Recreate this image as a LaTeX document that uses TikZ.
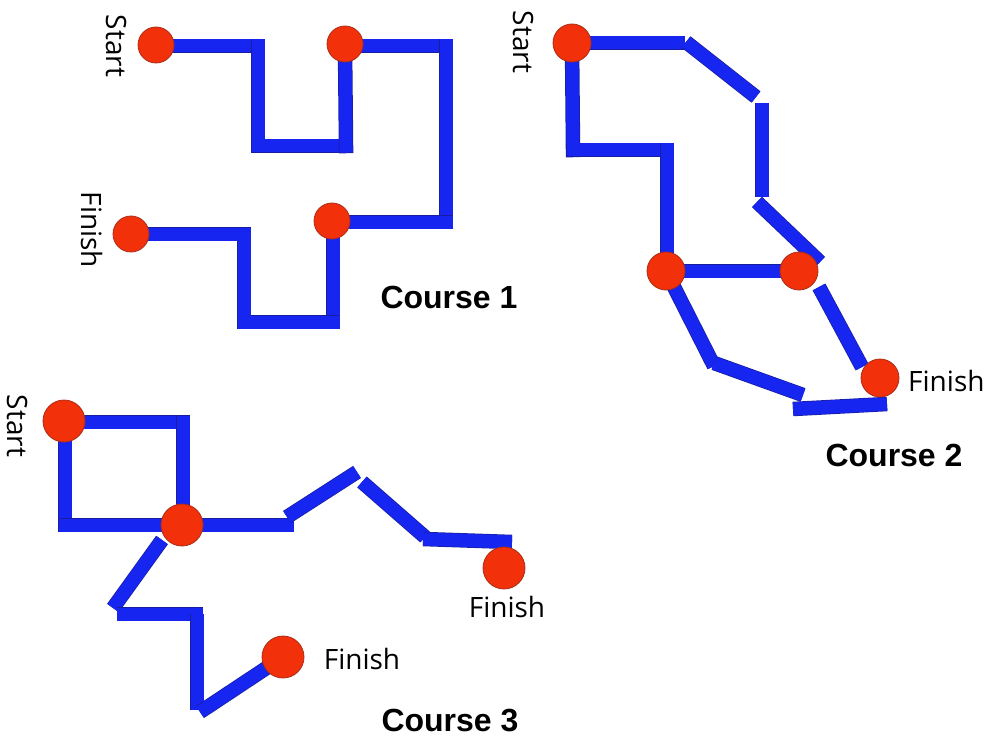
\documentclass[tikz,border=0pt]{standalone}
\usepackage{fontspec}
\setmainfont{Liberation Sans}
\newfontfamily\lblfont{Open Sans}
\definecolor{barBlue}{RGB}{22,38,240}
\definecolor{barEdge}{RGB}{25,30,160}
\definecolor{dotRed}{RGB}{242,48,10}
\definecolor{dotEdge}{RGB}{170,45,25}
\tikzset{
  bar/.style={draw=barEdge, line width=14.5pt, line cap=rect, postaction={draw=barBlue, line width=13pt}},
  barb/.style={draw=barEdge, line width=14.5pt, line cap=butt, postaction={draw=barBlue, line width=13pt}},
  dot/.style={circle, fill=dotRed, draw=dotEdge, line width=0.8pt, inner sep=0pt, minimum size=#1},
  dot/.default=37pt,
  lbl/.style={font=\lblfont\fontsize{28}{28}\selectfont, inner sep=0pt},
  title/.style={font=\fontsize{32}{32}\selectfont\bfseries, inner sep=0pt}
}
\begin{document}
\begin{tikzpicture}[x=1pt,y=-1pt]
\useasboundingbox (0,0) rectangle (990,738);
% ---------- Course 1 ----------
\coordinate (a1) at (258,46);
\coordinate (a2) at (258,146);
\coordinate (a3) at (346,146);
\coordinate (a4) at (446,46);
\coordinate (a5) at (446,142);
\coordinate (a6) at (446,222);
\coordinate (a7) at (333,322);
\coordinate (a8) at (244,322);
\coordinate (a9) at (244,234);
\coordinate (c1sP) at (156,46);
\coordinate (c1aP) at (345,46);
\coordinate (c1bP) at (333,222);
\coordinate (c1fP) at (131,234);
\draw[bar] (c1sP) -- (a1);
\draw[bar] (a1) -- (a2);
\draw[bar] (a2) -- (a3);
\draw[bar] (a3) -- (c1aP);
\draw[bar] (c1aP) -- (a4);
\draw[bar] (a4) -- (a5);
\draw[bar] (a5) -- (a6);
\draw[bar] (a6) -- (c1bP);
\draw[bar] (c1bP) -- (a7);
\draw[bar] (a7) -- (a8);
\draw[bar] (a8) -- (a9);
\draw[bar] (a9) -- (c1fP);
\node[dot=36pt] (c1s) at (156,45) {};
\node[dot=36pt] (c1a) at (345,44) {};
\node[dot=36pt] (c1b) at (332,221) {};
\node[dot=36pt] (c1f) at (131,234) {};
\node[lbl, rotate=-90] (t1s) at (116,46) {Start};
\node[lbl, rotate=-90] (t1f) at (92,230) {Finish};
\node[title] (t1) at (449,297) {Course 1};
% ---------- Course 2 ----------
\coordinate (b1) at (685,43);
\coordinate (b2a) at (686,42);
\coordinate (b2b) at (756,97);
\coordinate (b3a) at (762,103);
\coordinate (b3b) at (762,197);
\coordinate (b4a) at (757,202);
\coordinate (b4b) at (820,262);
\coordinate (b5) at (573,150);
\coordinate (b6) at (667,150);
\coordinate (b7a) at (673,285);
\coordinate (b7b) at (714,366);
\coordinate (b8a) at (714,363);
\coordinate (b8b) at (803,395);
\coordinate (b9a) at (793,409);
\coordinate (b9b) at (887,404);
\coordinate (b10a) at (819,287);
\coordinate (b10b) at (862,367);
\coordinate (c2sP) at (572,43);
\coordinate (c2lP) at (667,271);
\coordinate (c2rP) at (799,271);
\draw[barb] (c2sP) -- (b1);
\draw[barb] (b2a) -- (b2b);
\draw[barb] (b3a) -- (b3b);
\draw[barb] (b4a) -- (b4b);
\draw[bar] (c2lP) -- (c2rP);
\draw[bar] (c2sP) -- (b5);
\draw[bar] (b5) -- (b6);
\draw[bar] (b6) -- (c2lP);
\draw[barb] (b7a) -- (b7b);
\draw[barb] (b8a) -- (b8b);
\draw[barb] (b9a) -- (b9b);
\draw[barb] (b10a) -- (b10b);
\node[dot=38pt] (c2s) at (572,43) {};
\node[dot=38pt] (c2l) at (666,271) {};
\node[dot=38pt] (c2r) at (799,271) {};
\node[dot=38pt] (c2f) at (880,378) {};
\node[lbl, rotate=-90] (t2s) at (523,42) {Start};
\node[lbl, anchor=west] (t2f) at (908,381) {Finish};
\node[title] (t2) at (894,455) {Course 2};
% ---------- Course 3 ----------
\coordinate (d1) at (183,422);
\coordinate (d2) at (65,525);
\coordinate (d3) at (287,525);
\coordinate (d4a) at (287,517);
\coordinate (d4b) at (357,472);
\coordinate (d5a) at (362,482);
\coordinate (d5b) at (425,537);
\coordinate (d6a) at (423,539);
\coordinate (d6b) at (512,542);
\coordinate (d7a) at (162,540);
\coordinate (d7b) at (113,608);
\coordinate (d8a) at (117,614);
\coordinate (d8b) at (203,614);
\coordinate (d9a) at (197,614);
\coordinate (d9b) at (197,710);
\coordinate (d10a) at (200,712);
\coordinate (c3sP) at (64,422);
\coordinate (c3cP) at (183,525);
\coordinate (c3sV) at (65,422);
\coordinate (c3fP) at (283,657);
\draw[bar] (c3sP) -- (d1);
\draw[bar] (d1) -- (c3cP);
\draw[bar] (c3sV) -- (d2);
\draw[bar] (d2) -- (c3cP);
\draw[bar] (c3cP) -- (d3);
\draw[barb] (d4a) -- (d4b);
\draw[barb] (d5a) -- (d5b);
\draw[barb] (d6a) -- (d6b);
\draw[barb] (d7a) -- (d7b);
\draw[barb] (d8a) -- (d8b);
\draw[barb] (d9a) -- (d9b);
\draw[barb] (d10a) -- (c3fP);
\node[dot=42pt] (c3s) at (64,421) {};
\node[dot=42pt] (c3c) at (182,525) {};
\node[dot=42pt] (c3f1) at (283,657) {};
\node[dot=42pt] (c3f2) at (504,568) {};
\node[lbl, rotate=-90] (t3s) at (18,426) {Start};
\node[lbl] (t3f1) at (362,659) {Finish};
\node[lbl] (t3f2) at (507,607) {Finish};
\node[title] (t3) at (450,721) {Course 3};
\end{tikzpicture}
\end{document}
